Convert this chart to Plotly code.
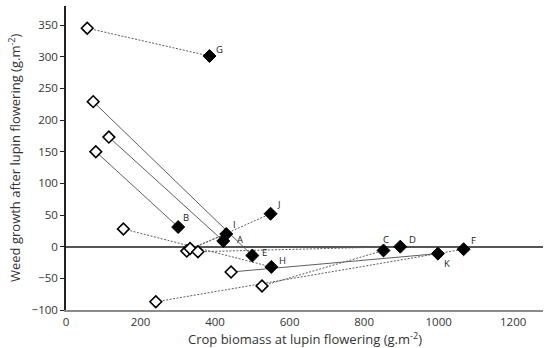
import plotly.graph_objects as go

# Pair labels (treatment)
labels = ["G", "E", "A", "B", "H", "J", "I", "D", "K", "C", "F"]
# Open diamonds (start)
open_x = [57, 73, 115, 80, 154, 324, 333, 354, 443, 526, 241]
open_y = [345, 229, 173, 150, 28, -7, -3, -8, -40, -62, -87]
# Filled diamonds (end)
fill_x = [385, 500, 422, 301, 551, 549, 430, 897, 998, 852, 1067]
fill_y = [301, -14, 9, 31, -32, 52, 20, 0, -11, -6, -4]

x_title = "Crop biomass at lupin flowering (g.m<sup>-2</sup>)"
y_title = "Weed growth after lupin flowering (g.m<sup>-2</sup>)"

# styles (not data)
dashes = ["2px,1.5px", "solid", "solid", "solid", "2px,1.5px", "2px,1.5px", "2px,1.5px",
          "2px,1.5px", "solid", "2px,1.5px", "2px,1.5px"]
label_shift = {"G": (10, 7), "E": (12, 3), "A": (17, 1), "B": (8, 10), "H": (11, 6),
               "J": (8, 9), "I": (8, 10), "D": (12, 7), "K": (9, -10), "C": (2, 11), "F": (10, 9)}

fig = go.Figure()
for i in range(len(labels)):
    fig.add_trace(go.Scatter(
        x=[open_x[i], fill_x[i]], y=[open_y[i], fill_y[i]], mode="lines",
        line=dict(color="#5e5e5e", width=1, dash=dashes[i]), showlegend=False, hoverinfo="skip"))

fig.add_trace(go.Scatter(
    x=open_x, y=open_y, mode="markers", showlegend=False,
    marker=dict(symbol="diamond", size=9, color="white", line=dict(color="black", width=1.6))))
fig.add_trace(go.Scatter(
    x=fill_x, y=fill_y, mode="markers", showlegend=False,
    marker=dict(symbol="diamond", size=10, color="black", line=dict(color="black", width=1))))

for i, lab in enumerate(labels):
    dx, dy = label_shift[lab]
    fig.add_annotation(x=fill_x[i], y=fill_y[i], text=lab, showarrow=False,
                       xshift=dx, yshift=dy, font=dict(size=9.5, color="#222222", family="Open Sans"))

fig.add_annotation(text=x_title, xref="paper", yref="paper", x=0.5, y=0, yshift=-28,
                   yanchor="middle", showarrow=False, font=dict(size=13, color="#333333"))
fig.add_annotation(text=y_title, xref="paper", yref="paper", x=0, y=0.5, xshift=-52,
                   xanchor="center", yanchor="middle", textangle=-90, showarrow=False,
                   font=dict(size=13, color="#333333"))

fig.update_layout(
    width=550, height=348,
    margin=dict(l=66, r=7, t=6, b=38),
    paper_bgcolor="white", plot_bgcolor="white",
    font=dict(family="Open Sans", color="#333333"),
    xaxis=dict(range=[0, 1280], tickvals=[0, 200, 400, 600, 800, 1000, 1200], automargin=False,
               showgrid=False, zeroline=False, showline=True, linecolor="#8c8c8c", linewidth=2,
               ticks="", tickfont=dict(size=11.5, color="#333333")),
    yaxis=dict(range=[-100, 380], tickvals=[-100, -50, 0, 50, 100, 150, 200, 250, 300, 350],
               automargin=False,
               showgrid=False, zeroline=True, zerolinecolor="#555555", zerolinewidth=1.5,
               showline=True, linecolor="#222222", linewidth=1.5,
               ticks="outside", ticklen=4, tickcolor="#222222",
               tickfont=dict(size=11.5, color="#333333")),
)

fig.write_html("out.html", config={"displayModeBar": False},
               post_script="document.body.style.margin='0';document.body.style.overflow='hidden';")
